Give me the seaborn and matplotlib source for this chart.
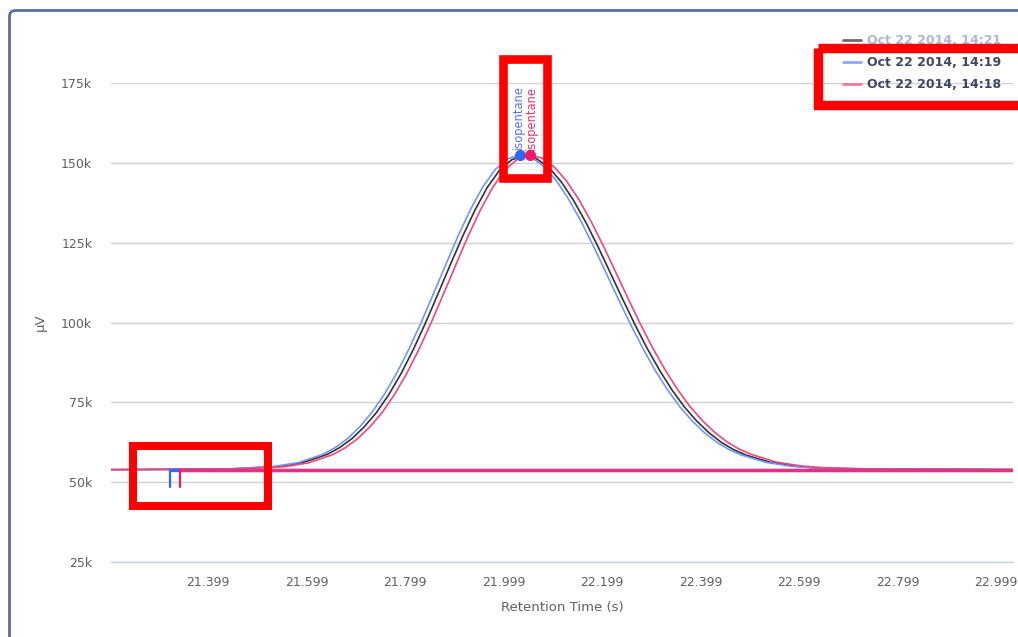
import pandas as pd
import seaborn as sns
import matplotlib.pyplot as plt
from matplotlib.lines import Line2D
from matplotlib.patches import Rectangle, FancyBboxPatch

# three runs of the same chromatogram (time in s, signal in k µV)
run_labels = ['Oct 22 2014, 14:21', 'Oct 22 2014, 14:19', 'Oct 22 2014, 14:18']

black_time = [21.18, 21.441, 21.541, 21.591, 21.641, 21.666, 21.691, 21.716, 21.741, 21.766,
              21.791, 21.816, 21.841, 21.866, 21.891, 21.916, 21.941, 21.966, 21.991, 22.016,
              22.041, 22.066, 22.091, 22.116, 22.141, 22.166, 22.191, 22.216, 22.241, 22.266,
              22.291, 22.316, 22.341, 22.366, 22.391, 22.416, 22.441, 22.466, 22.491, 22.541,
              22.591, 22.641, 22.741, 23.06]
black_uv = [53.9, 54.1, 54.9, 56.1, 58.7, 60.8, 63.6, 67.3, 71.8, 77.4,
            84.0, 91.6, 100.0, 109.0, 118.1, 127.0, 135.2, 142.3, 147.7, 151.0,
            152.2, 151.3, 148.5, 144.1, 138.3, 131.4, 123.7, 115.5, 107.3, 99.3,
            91.8, 85.0, 78.9, 73.6, 69.2, 65.5, 62.5, 60.2, 58.5, 56.2,
            55.0, 54.4, 54.1, 53.9]

blue_time = [21.18, 21.432, 21.532, 21.582, 21.632, 21.657, 21.682, 21.707, 21.732, 21.757,
             21.782, 21.807, 21.832, 21.857, 21.882, 21.907, 21.932, 21.957, 21.982, 22.007,
             22.032, 22.057, 22.082, 22.107, 22.132, 22.157, 22.182, 22.207, 22.232, 22.257,
             22.282, 22.307, 22.332, 22.357, 22.382, 22.407, 22.432, 22.457, 22.482, 22.532,
             22.582, 22.632, 22.732, 23.06]
blue_uv = [53.9, 54.1, 54.9, 56.1, 58.7, 60.8, 63.6, 67.3, 71.9, 77.5,
           84.1, 91.7, 100.1, 109.1, 118.2, 127.2, 135.4, 142.5, 147.9, 151.2,
           152.5, 151.6, 148.7, 144.3, 138.4, 131.5, 123.8, 115.6, 107.4, 99.4,
           91.9, 85.0, 78.9, 73.6, 69.2, 65.5, 62.5, 60.2, 58.5, 56.2,
           55.0, 54.4, 54.1, 53.9]

pink_time = [21.18, 21.452, 21.552, 21.602, 21.652, 21.677, 21.702, 21.727, 21.752, 21.777,
             21.802, 21.827, 21.852, 21.877, 21.902, 21.927, 21.952, 21.977, 22.002, 22.027,
             22.052, 22.077, 22.102, 22.127, 22.152, 22.177, 22.202, 22.227, 22.252, 22.277,
             22.302, 22.327, 22.352, 22.377, 22.402, 22.427, 22.452, 22.477, 22.502, 22.552,
             22.602, 22.652, 22.752, 23.06]
pink_uv = [53.9, 54.1, 54.8, 56.0, 58.6, 60.7, 63.5, 67.2, 71.7, 77.3,
           83.9, 91.5, 99.9, 108.9, 118.0, 127.0, 135.2, 142.3, 147.8, 151.1,
           152.4, 151.5, 148.7, 144.3, 138.5, 131.6, 123.9, 115.7, 107.5, 99.5,
           92.0, 85.2, 79.1, 73.8, 69.4, 65.7, 62.7, 60.4, 58.7, 56.3,
           55.1, 54.5, 54.1, 53.9]

# integration baseline (blue run, pink run)
baseline_start = [21.322, 21.342]
baseline_end = 23.06
baseline_uv = 53.8
baseline_drop_uv = 48.4

# detected peaks
peak_time = [22.032, 22.052]
peak_uv = [152.5, 152.4]
peak_name = ['isopentane', 'isopentane']

x_ticks = [21.399, 21.599, 21.799, 21.999, 22.199, 22.399, 22.599, 22.799, 22.999]
y_ticks = [25, 50, 75, 100, 125, 150, 175]

line_colors = ['#333333', '#7096f8', '#f2457f']
legend_colors = ['#6b6b6b', '#8ea8f5', '#f27aa3']
marker_colors = ['#2f68f5', '#f0186a']
baseline_colors = ['#2f68f5', '#e2347e']
label_colors = ['#5a74e6', '#e8336d']

df = pd.concat([
    pd.DataFrame({'time': black_time, 'uv': black_uv, 'run': run_labels[0]}),
    pd.DataFrame({'time': blue_time, 'uv': blue_uv, 'run': run_labels[1]}),
    pd.DataFrame({'time': pink_time, 'uv': pink_uv, 'run': run_labels[2]}),
], ignore_index=True)

sns.set_style('white')
plt.rcParams['font.family'] = ['DejaVu Sans']

W, H = 1018, 637
fig = plt.figure(figsize=(W / 100, H / 100), dpi=100)
ax = fig.add_axes([111 / W, 75 / H, 902 / W, 479 / H])

sns.lineplot(data=df, x='time', y='uv', hue='run', hue_order=run_labels,
             palette=line_colors, estimator=None, sort=False, legend=False,
             linewidth=1.2, ax=ax, zorder=3)

# baselines drawn over the flat tails
for i in range(2):
    ax.plot([baseline_start[i], baseline_end], [baseline_uv, baseline_uv],
            color=baseline_colors[i], lw=2.4, zorder=4)
    ax.plot([baseline_start[i], baseline_start[i]], [baseline_uv, baseline_drop_uv],
            color=marker_colors[i], lw=1.6, zorder=4)

# peak markers with rotated names, nudged apart a little
for i, dx in zip(range(2), [-1.3, 1.3]):
    ax.plot(peak_time[i], peak_uv[i], 'o', color=marker_colors[i], ms=7, zorder=5,
            clip_on=False)
    ax.annotate(peak_name[i], (peak_time[i], peak_uv[i]), xytext=(dx, 4),
                textcoords='offset points', rotation=90, ha='center', va='bottom',
                fontsize=8.3, color=label_colors[i], annotation_clip=False)

ax.set_xlim(21.202, 23.0335)
ax.set_ylim(25, 175)
ax.set_xticks(x_ticks)
ax.set_xticklabels([f'{t:.3f}' for t in x_ticks])
ax.set_yticks(y_ticks)
ax.set_yticklabels([f'{v}k' for v in y_ticks])

ax.yaxis.grid(True, color='#d0d0d0', lw=1)
ax.xaxis.grid(False)
for side in ['top', 'left', 'right']:
    ax.spines[side].set_visible(False)
ax.spines['bottom'].set_color('#c6d4e6')
ax.spines['bottom'].set_linewidth(1)
ax.tick_params(axis='x', length=7, width=1, color='#c6d4e6', pad=3,
               labelcolor='#606060', labelsize=9)
ax.tick_params(axis='y', length=0, pad=13.5, labelcolor='#606060', labelsize=9)

ax.set_xlabel('Retention Time (s)', color='#606060', fontsize=9.5)
ax.xaxis.set_label_coords(0.5, -45 / 479)
ax.xaxis.label.set_va('center')
ax.set_ylabel('µV', color='#606060', fontsize=9.5)
ax.yaxis.set_label_coords(-71 / 902, 0.5)
ax.yaxis.label.set_va('center')

handles = [Line2D([], [], color=c, lw=2) for c in legend_colors]
leg = ax.legend(handles, run_labels, loc='upper left',
                bbox_to_anchor=(843 / W, 1 - 34 / H), bbox_transform=fig.transFigure,
                frameon=False, prop=dict(weight='bold', size=9), handlelength=1.4,
                handletextpad=0.5, labelspacing=0.72, borderaxespad=0, borderpad=0)
for txt, c in zip(leg.get_texts(), ['#a9b6de', '#3e4766', '#3e4766']):
    txt.set_color(c)

# overlay in pixel units: chart frame and red highlight boxes
over = fig.add_axes([0, 0, 1, 1], zorder=10)
over.set_xlim(0, W)
over.set_ylim(H, 0)
over.axis('off')
over.patch.set_visible(False)
over.add_patch(FancyBboxPatch((9.5, 10.5), 1100, 700,
                              boxstyle='round,pad=0,rounding_size=6',
                              fill=False, ec='#5b6c9e', lw=2))
for x0, y0, x1, y1, lw in [(503, 59, 547.5, 178, 6.2),
                           (818.5, 47.5, 1040, 105, 6.8),
                           (133, 445.5, 268.5, 506, 5.8)]:
    over.add_patch(Rectangle((x0, y0), x1 - x0, y1 - y0, fill=False,
                             ec='#ff0000', lw=lw, joinstyle='miter'))

fig.savefig('out.png', dpi=100)
